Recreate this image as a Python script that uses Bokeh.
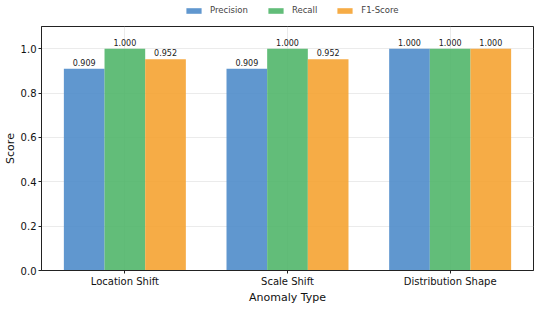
from bokeh.plotting import figure
from bokeh.layouts import column
from bokeh.models import ColumnDataSource, FixedTicker, Legend, LegendItem, Range1d, LabelSet
from bokeh.core.properties import value
from bokeh.transform import dodge
from bokeh.embed import file_html
from bokeh.resources import INLINE

categories = ["Location Shift", "Scale Shift", "Distribution Shape"]
precision = [0.909, 0.909, 1.000]
recall = [1.000, 1.000, 1.000]
f1_score = [0.952, 0.952, 1.000]
series_names = ["Precision", "Recall", "F1-Score"]
colors = ["#4a89c8", "#4cb466", "#f5a02c"]
y_ticks = [0.0, 0.2, 0.4, 0.6, 0.8, 1.0]

FONT = "DejaVu Sans"
x_idx = list(range(len(categories)))
src = ColumnDataSource(dict(
    x=x_idx,
    p=precision, r=recall, f=f1_score,
    pl=[f"{v:.3f}" for v in precision],
    rl=[f"{v:.3f}" for v in recall],
    fl=[f"{v:.3f}" for v in f1_score],
))

W = 534
LEG_H = 18
MAIN_H = 306 - LEG_H

# ---- legend strip ----
lf = figure(width=W, height=LEG_H, output_backend="svg", toolbar_location=None,
            x_axis_location=None, y_axis_location=None,
            x_range=Range1d(0, 1), y_range=Range1d(0, 1),
            min_border_left=0, min_border_right=0, min_border_top=0, min_border_bottom=0)
lf.grid.visible = False
lf.outline_line_color = None
lf.outline_line_alpha = 0
lf.background_fill_color = "white"
lf.border_fill_color = "white"
# zero-height proxy bars, used only for the legend swatches
leg_r = [lf.vbar(x=[0.5], top=[0], bottom=[0], width=0.0, fill_color=c, fill_alpha=0.88,
                 line_color=None)
         for c in colors]
legend = Legend(items=[LegendItem(label=n, renderers=[r]) for n, r in zip(series_names, leg_r)],
                orientation="horizontal", location=(143, 3),
                glyph_width=19, glyph_height=7, label_standoff=7, spacing=18,
                label_text_font=FONT, label_text_font_size="8.5px",
                label_height=9, label_text_baseline="middle",
                border_line_color=None, background_fill_alpha=0,
                padding=0, margin=0)
lf.add_layout(legend)

# ---- main chart ----
p = figure(width=W, height=MAIN_H, output_backend="svg", toolbar_location=None,
           x_range=Range1d(-0.5125, 2.5125), y_range=Range1d(0, 1.1),
           min_border_left=4, min_border_right=1, min_border_top=8, min_border_bottom=2)

bw = 0.25
offsets = [-0.25, 0.0, 0.25]
cols = ["p", "r", "f"]
lcols = ["pl", "rl", "fl"]
for off, c, lc, col in zip(offsets, cols, lcols, colors):
    p.vbar(x=dodge("x", off), top=c, width=bw, source=src,
           fill_color=col, fill_alpha=0.88, line_color=None)
    lbl = LabelSet(x=dodge("x", off), y=c, text=lc, source=src, y_offset=3,
                   text_align="center", text_baseline="bottom",
                   text_font=value(FONT), text_font_size="8px", text_color="#222222")
    p.add_layout(lbl)

p.xaxis.ticker = FixedTicker(ticks=x_idx)
p.xaxis.major_label_overrides = {i: c for i, c in enumerate(categories)}
p.yaxis.ticker = FixedTicker(ticks=y_ticks)
p.yaxis.major_label_overrides = {v: f"{v:.1f}" for v in y_ticks}
p.xaxis.axis_label = "Anomaly Type"
p.yaxis.axis_label = "Score"
for ax in (p.xaxis, p.yaxis):
    ax.axis_label_text_font = FONT
    ax.axis_label_text_font_style = "normal"
    ax.axis_label_text_font_size = "11px"
    ax.axis_label_text_color = "#111111"
    ax.axis_label_standoff = 1
    ax.major_label_text_font = FONT
    ax.major_label_text_font_size = "10px"
    ax.major_label_text_color = "#111111"
    ax.axis_line_color = "#222222"
    ax.major_tick_line_color = "#222222"
    ax.major_tick_out = 3
    ax.major_tick_in = 0
    ax.minor_tick_line_color = None
    ax.major_label_standoff = 2

p.grid.grid_line_color = "#dddddd"
p.grid.grid_line_alpha = 0.6
p.outline_line_color = "#222222"
p.outline_line_width = 1
p.outline_line_alpha = 1

layout = column(lf, p, spacing=0)
open("out.html", "w").write(file_html(layout, INLINE))
